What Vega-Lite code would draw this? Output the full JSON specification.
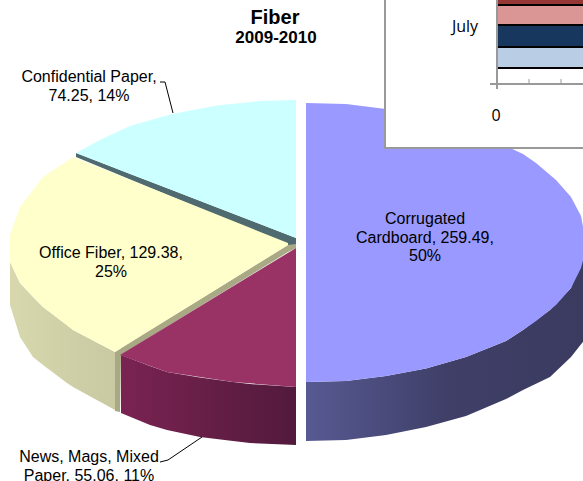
{"$schema":"https://vega.github.io/schema/vega-lite/v6.json","width":583,"height":481,"autosize":"none","padding":0,"background":"white","config":{"view":{"stroke":null}},
"datasets":{"edges":[
{"part":"cardboard side","x":306,"y":382,"y2":441},{"part":"cardboard side","x":346,"y":381,"y2":440},{"part":"cardboard side","x":386,"y":376,"y2":435},{"part":"cardboard side","x":426,"y":368.5,"y2":427},{"part":"cardboard side","x":466,"y":357,"y2":416},{"part":"cardboard side","x":506,"y":341,"y2":399},{"part":"cardboard side","x":523,"y":330,"y2":390},{"part":"cardboard side","x":550,"y":310,"y2":377},{"part":"cardboard side","x":571,"y":288,"y2":357},{"part":"cardboard side","x":586,"y":250,"y2":338},
{"part":"cardboard","x":306,"y":103,"y2":382},{"part":"cardboard","x":346,"y":104,"y2":381},{"part":"cardboard","x":386,"y":109,"y2":376},{"part":"cardboard","x":426,"y":116.5,"y2":368.5},{"part":"cardboard","x":466,"y":128,"y2":357},{"part":"cardboard","x":506,"y":146,"y2":341},{"part":"cardboard","x":523,"y":154,"y2":330},{"part":"cardboard","x":536,"y":163,"y2":321},{"part":"cardboard","x":556,"y":180,"y2":305},{"part":"cardboard","x":571,"y":197,"y2":288},{"part":"cardboard","x":581,"y":216,"y2":268},{"part":"cardboard","x":586,"y":242,"y2":250},
{"part":"confidential edge","x":76,"y":153,"y2":157},{"part":"confidential edge","x":296,"y":238,"y2":248},
{"part":"confidential","x":76,"y":153,"y2":153},{"part":"confidential","x":100,"y":140,"y2":162.3},{"part":"confidential","x":130,"y":126,"y2":173.9},{"part":"confidential","x":172,"y":114,"y2":190},{"part":"confidential","x":217,"y":105.5,"y2":207.5},{"part":"confidential","x":260,"y":101,"y2":224},{"part":"confidential","x":296,"y":100,"y2":238},
{"part":"office side","x":10,"y":262,"y2":305},{"part":"office side","x":20,"y":283,"y2":337},{"part":"office side","x":33,"y":297,"y2":357},{"part":"office side","x":43,"y":307,"y2":365},{"part":"office side","x":67,"y":325,"y2":383},{"part":"office side","x":73,"y":330,"y2":387},{"part":"office side","x":115,"y":352,"y2":410},
{"part":"office edge","x":115,"y":352,"y2":411},{"part":"office edge","x":120,"y":349,"y2":412},{"part":"office edge","x":121,"y":348,"y2":355},{"part":"office edge","x":288,"y":245,"y2":252},{"part":"office edge","x":296,"y":244,"y2":248},
{"part":"office","x":10,"y":235,"y2":262},{"part":"office","x":20,"y":207,"y2":283},{"part":"office","x":43,"y":177,"y2":307},{"part":"office","x":73,"y":157,"y2":330},{"part":"office","x":115,"y":173.8,"y2":352},{"part":"office","x":150,"y":187.8,"y2":330.3},{"part":"office","x":200,"y":207.8,"y2":299.4},{"part":"office","x":250,"y":227.8,"y2":268.5},{"part":"office","x":288,"y":243,"y2":245},
{"part":"news side","x":121,"y":355,"y2":413},{"part":"news side","x":150,"y":366,"y2":425},{"part":"news side","x":167,"y":372,"y2":430},{"part":"news side","x":200,"y":377.5,"y2":437},{"part":"news side","x":233,"y":382,"y2":441},{"part":"news side","x":250,"y":384,"y2":443},{"part":"news side","x":296,"y":387,"y2":445},
{"part":"news","x":120,"y":355,"y2":355},{"part":"news","x":167,"y":326.4,"y2":372},{"part":"news","x":233,"y":286.3,"y2":382},{"part":"news","x":296,"y":248,"y2":387}
],
"leaders":[
{"slice":"Confidential Paper","order":1,"x":160,"y":82},{"slice":"Confidential Paper","order":2,"x":165,"y":82},{"slice":"Confidential Paper","order":3,"x":173,"y":113},
{"slice":"News, Mags, Mixed Paper","order":1,"x":160,"y":462},{"slice":"News, Mags, Mixed Paper","order":2,"x":168,"y":460},{"slice":"News, Mags, Mixed Paper","order":3,"x":202,"y":437}
],
"labels":[
{"slice":"Confidential Paper","text":"Confidential Paper,\n74.25, 14%","x":89,"y":77},
{"slice":"Office Fiber","text":"Office Fiber, 129.38,\n25%","x":111,"y":253},
{"slice":"Corrugated Cardboard","text":"Corrugated\nCardboard, 259.49,\n50%","x":425,"y":219},
{"slice":"News, Mags, Mixed Paper","text":"News, Mags, Mixed\nPaper, 55.06, 11%","x":89,"y":457}
],
"inset":[
{"series":"a","x":497,"x2":620,"y":-5,"y2":5},{"series":"b","x":497,"x2":620,"y":5,"y2":25},{"series":"c","x":497,"x2":620,"y":25,"y2":47},{"series":"d","x":497,"x2":620,"y":47,"y2":68}
],
"insetAxis":[
{"kind":"axis","x":490,"x2":620,"y":84,"y2":84},{"kind":"axis","x":497,"x2":497,"y":0,"y2":89},
{"kind":"tick","x":529,"x2":529,"y":79,"y2":84},{"kind":"tick","x":561,"x2":561,"y":79,"y2":84}
]},
"encoding":{"x":{"field":"x","type":"quantitative","scale":{"domain":[0,583],"nice":false,"zero":false},"axis":null},"y":{"field":"y","type":"quantitative","scale":{"domain":[481,0],"nice":false,"zero":false},"axis":null}},
"layer":[
{"data":{"name":"edges"},"transform":[{"filter":"datum.part==='cardboard side'"}],"mark":{"type":"area","clip":true,"fill":{"gradient":"linear","x1":0,"y1":0,"x2":1,"y2":0,"stops":[{"offset":0,"color":"#575a92"},{"offset":0.5,"color":"#3f3f68"},{"offset":1,"color":"#3b3b60"}]}},"encoding":{"y2":{"field":"y2"}}},
{"data":{"name":"edges"},"transform":[{"filter":"datum.part==='cardboard'"}],"mark":{"type":"area","clip":true,"fill":"#9999ff"},"encoding":{"y2":{"field":"y2"}}},
{"data":{"name":"edges"},"transform":[{"filter":"datum.part==='confidential edge'"}],"mark":{"type":"area","clip":true,"fill":"#4f6b70"},"encoding":{"y2":{"field":"y2"}}},
{"data":{"name":"edges"},"transform":[{"filter":"datum.part==='confidential'"}],"mark":{"type":"area","clip":true,"fill":"#ccffff"},"encoding":{"y2":{"field":"y2"}}},
{"data":{"name":"edges"},"transform":[{"filter":"datum.part==='office side'"}],"mark":{"type":"area","clip":true,"fill":{"gradient":"linear","x1":0,"y1":0,"x2":1,"y2":0,"stops":[{"offset":0,"color":"#d8d8ae"},{"offset":1,"color":"#c9c9a2"}]}},"encoding":{"y2":{"field":"y2"}}},
{"data":{"name":"edges"},"transform":[{"filter":"datum.part==='office edge'"}],"mark":{"type":"area","clip":true,"fill":"#a9a985"},"encoding":{"y2":{"field":"y2"}}},
{"data":{"name":"edges"},"transform":[{"filter":"datum.part==='office'"}],"mark":{"type":"area","clip":true,"fill":"#ffffcc"},"encoding":{"y2":{"field":"y2"}}},
{"data":{"name":"edges"},"transform":[{"filter":"datum.part==='news side'"}],"mark":{"type":"area","clip":true,"fill":{"gradient":"linear","x1":0,"y1":0,"x2":1,"y2":0,"stops":[{"offset":0,"color":"#7a2352"},{"offset":1,"color":"#521a3c"}]}},"encoding":{"y2":{"field":"y2"}}},
{"data":{"name":"edges"},"transform":[{"filter":"datum.part==='news'"}],"mark":{"type":"area","clip":true,"fill":"#993366"},"encoding":{"y2":{"field":"y2"}}},
{"data":{"name":"leaders"},"mark":{"type":"line","color":"#000000","strokeWidth":1},"encoding":{"order":{"field":"order"},"detail":{"field":"slice"}}},
{"data":{"name":"labels"},"mark":{"type":"text","font":"Liberation Sans","fontSize":16,"lineHeight":18.5,"lineBreak":"\n","align":"center","baseline":"middle","color":"#000000"},"encoding":{"text":{"field":"text"}}},
{"data":{"values":[{"text":"Fiber","x":275,"y":18}]},"mark":{"type":"text","font":"Liberation Sans","fontSize":20,"fontWeight":"bold","align":"center","baseline":"middle","color":"#000000"},"encoding":{"text":{"field":"text"}}},
{"data":{"values":[{"text":"2009-2010","x":276,"y":38}]},"mark":{"type":"text","font":"Liberation Sans","fontSize":17,"fontWeight":"bold","align":"center","baseline":"middle","color":"#000000"},"encoding":{"text":{"field":"text"}}},
{"data":{"values":[{"x":385,"x2":620,"y":-5,"y2":148}]},"mark":{"type":"rect","clip":true,"fill":"#ffffff","stroke":"#999999","strokeWidth":2},"encoding":{"x2":{"field":"x2"},"y2":{"field":"y2"}}},
{"data":{"name":"inset"},"mark":{"type":"rect","clip":true,"stroke":"#000000","strokeWidth":2},"encoding":{"x2":{"field":"x2"},"y2":{"field":"y2"},"fill":{"field":"series","type":"nominal","legend":null,"scale":{"domain":["a","b","c","d"],"range":["#953735","#d99694","#17375e","#b9cde5"]}}}},
{"data":{"name":"insetAxis"},"mark":{"type":"rule","clip":true,"color":"#999999"},"encoding":{"x2":{"field":"x2"},"y2":{"field":"y2"},"strokeWidth":{"field":"kind","type":"nominal","legend":null,"scale":{"domain":["axis","tick"],"range":[2,1]}}}},
{"data":{"values":[{"text":"July","x":465,"y":27},{"text":"0","x":496,"y":116}]},"mark":{"type":"text","font":"Open Sans","fontSize":16,"align":"center","baseline":"middle","color":"#000000"},"encoding":{"text":{"field":"text"}}}
]}
